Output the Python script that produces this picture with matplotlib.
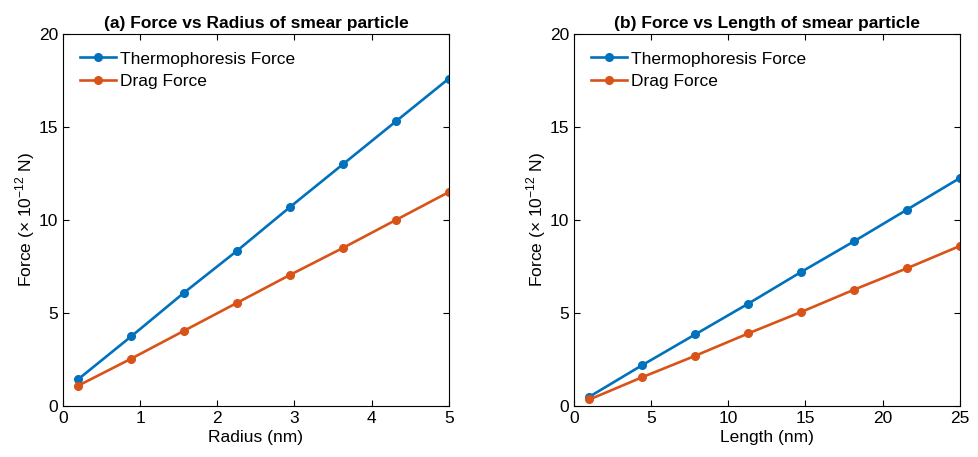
import matplotlib
matplotlib.use("Agg")
import matplotlib.pyplot as plt

plt.rcParams["font.family"] = ["Liberation Sans", "DejaVu Sans"]
plt.rcParams["mathtext.fontset"] = "custom"
plt.rcParams["mathtext.rm"] = "Liberation Sans"

radius = [0.2, 0.886, 1.571, 2.257, 2.943, 3.629, 4.314, 5.0]
thermo_radius = [1.45, 3.75, 6.1, 8.35, 10.7, 13.0, 15.3, 17.6]
drag_radius = [1.1, 2.55, 4.05, 5.55, 7.05, 8.5, 10.0, 11.5]

length = [1.0, 4.43, 7.86, 11.29, 14.71, 18.14, 21.57, 25.0]
thermo_length = [0.5, 2.2, 3.85, 5.5, 7.2, 8.85, 10.55, 12.25]
drag_length = [0.35, 1.55, 2.7, 3.9, 5.05, 6.25, 7.4, 8.6]

blue = "#0072BD"
orange = "#D95319"
fs = 12.5


def draw(ax, x, thermo, drag, xlabel, title, xmax, xticks):
    ax.plot(x, thermo, color=blue, linewidth=1.9, marker="o", markersize=5.5,
            label="Thermophoresis Force")
    ax.plot(x, drag, color=orange, linewidth=1.9, marker="o", markersize=5.5,
            label="Drag Force")
    ax.set_xlim(0, xmax)
    ax.set_ylim(0, 20)
    ax.set_xticks(xticks)
    ax.set_yticks([0, 5, 10, 15, 20])
    ax.tick_params(direction="in", top=True, right=True, labelsize=fs,
                   length=4, width=0.8)
    for s in ax.spines.values():
        s.set_linewidth(0.8)
    ax.set_xlabel(xlabel, fontsize=fs, labelpad=3)
    ax.set_ylabel(r"Force ($\times$ 10$^{-12}$ N)", fontsize=fs, labelpad=1)
    ax.set_title(title, fontsize=fs, fontweight="bold", pad=4)
    ax.legend(loc="upper left", frameon=False, fontsize=fs,
              handlelength=2.05, handletextpad=0.25, labelspacing=0.45,
              borderaxespad=0.6)


fig = plt.figure(figsize=(9.79, 4.57), dpi=100)
ax1 = fig.add_axes([0.0644, 0.1116, 0.394, 0.814])
ax2 = fig.add_axes([0.5863, 0.1116, 0.394, 0.814])

draw(ax1, radius, thermo_radius, drag_radius, "Radius (nm)",
     "(a) Force vs Radius of smear particle", 5, [0, 1, 2, 3, 4, 5])
draw(ax2, length, thermo_length, drag_length, "Length (nm)",
     "(b) Force vs Length of smear particle", 25, [0, 5, 10, 15, 20, 25])

fig.savefig("out.png", dpi=100)
